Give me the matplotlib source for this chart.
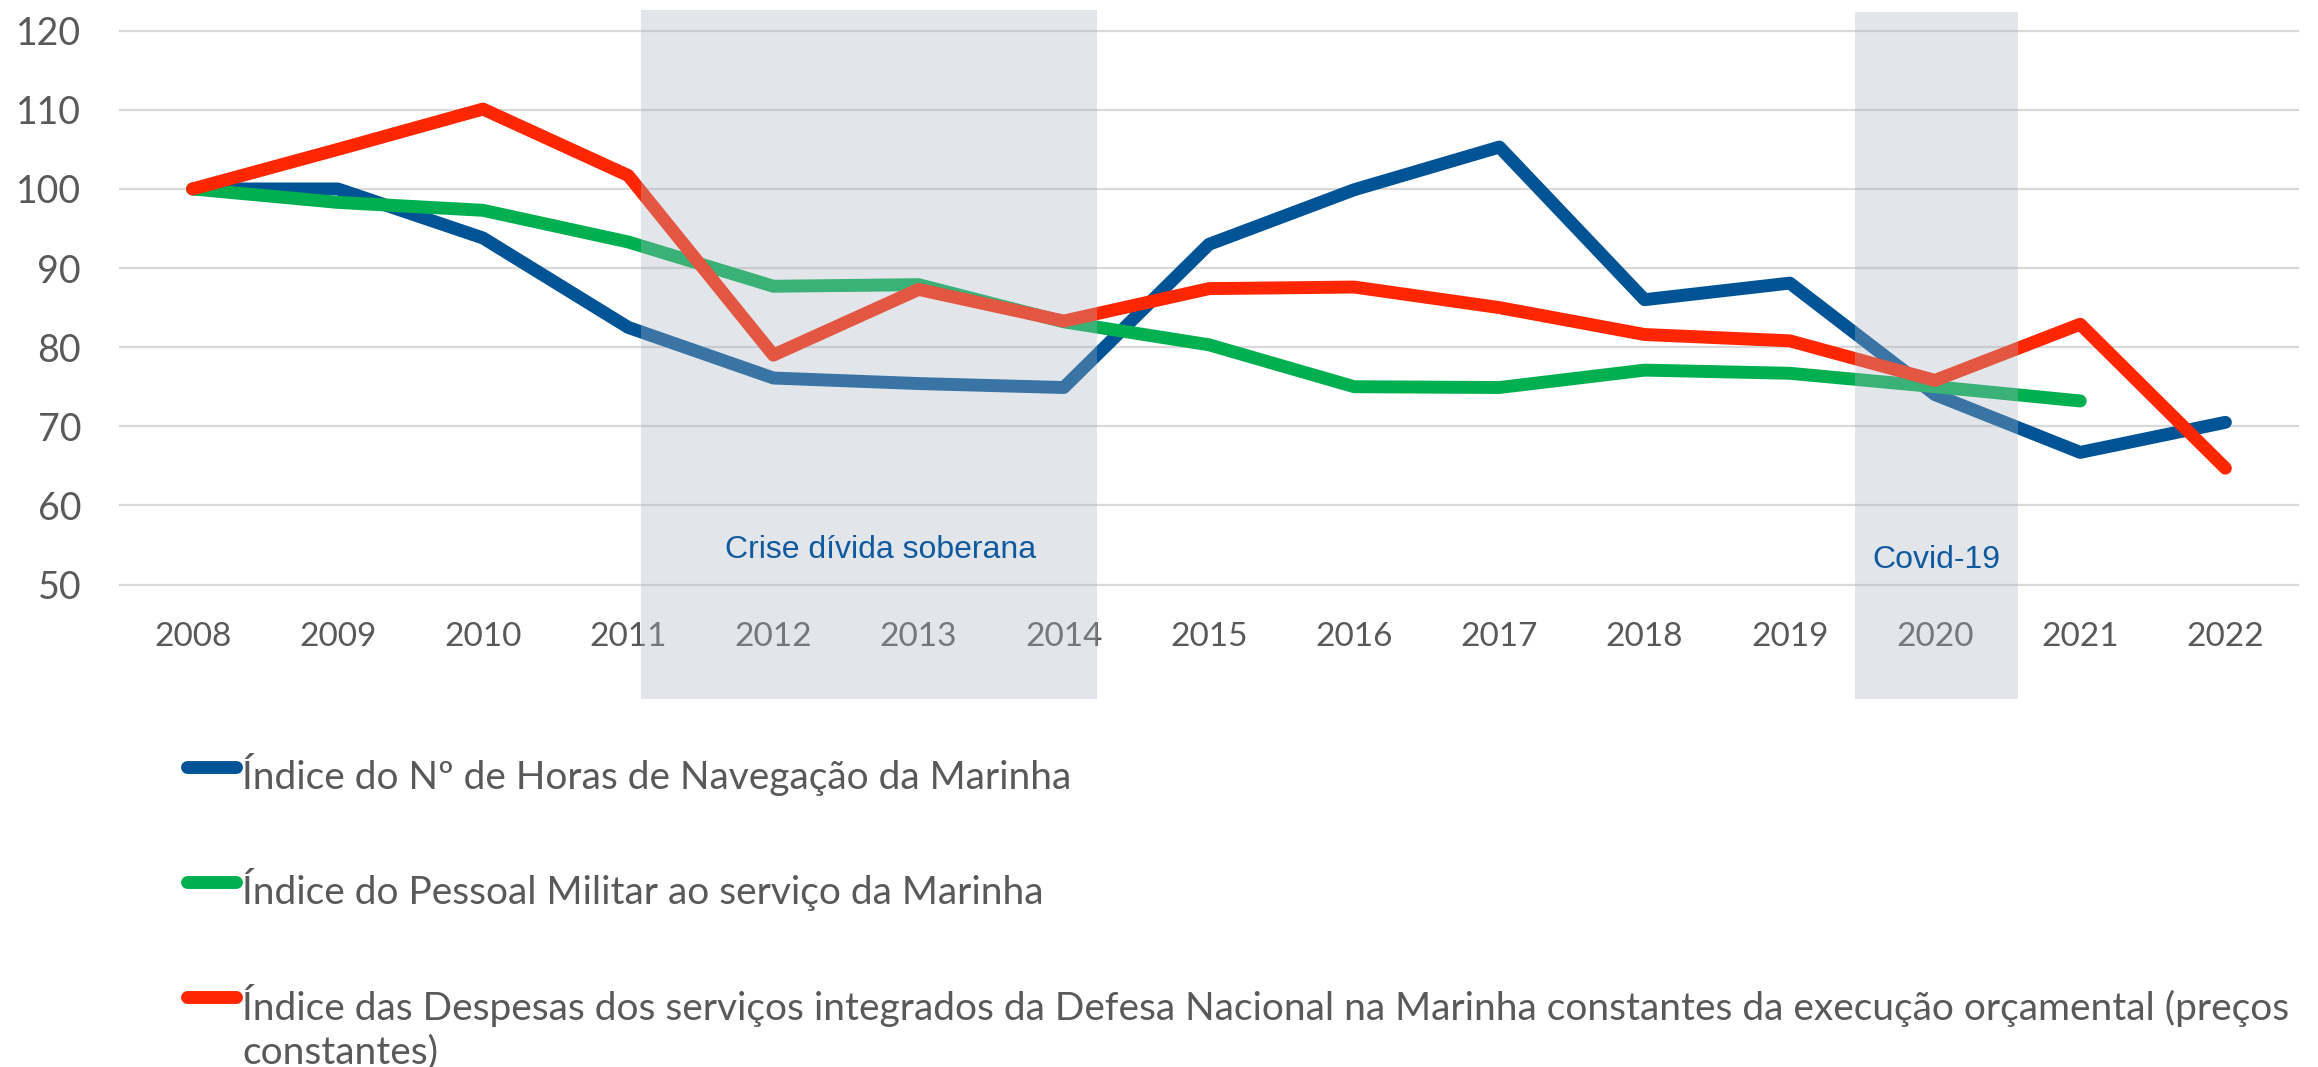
import numpy as np
import matplotlib
matplotlib.use("Agg")
import matplotlib.pyplot as plt
from matplotlib.offsetbox import HPacker

years = list(range(2008, 2023))
horas = [100, 100, 93.8, 82.5, 76.1, 75.4, 74.9, 93.0, 99.9, 105.3, 86.0, 88.1, 74.0, 66.7, 70.5]
pessoal = [100, 98.3, 97.3, 93.3, 87.7, 87.9, 83.2, 80.3, 75.0, 74.9, 77.1, 76.7, 75.0, 73.2, np.nan]
despesas = [100, 105.0, 110.1, 101.7, 79.0, 87.3, 83.3, 87.4, 87.6, 85.0, 81.6, 80.8, 75.8, 82.9, 64.7]

labels = [
    "Índice do Nº de Horas de Navegação da Marinha",
    "Índice do Pessoal Militar ao serviço da Marinha",
    "Índice das Despesas dos serviços integrados da Defesa Nacional na Marinha "
    "constantes da execução orçamental (preços\nconstantes)",
]

periods = [("Crise dívida soberana", 2011.09, 2014.23), ("Covid-19", 2019.45, 2020.57)]

blue = "#005496"
green = "#00B050"
red = "#FF2600"
grey_txt = "#595959"

plt.rcParams["font.family"] = ["Lato", "DejaVu Sans"]

fig = plt.figure(figsize=(23.18, 10.67), dpi=100)
ax = fig.add_axes([0.05177, 0.4522, 0.9396, 0.5190])

lw = 9.3
line_kw = dict(linewidth=lw, solid_capstyle="round", solid_joinstyle="round", zorder=2)
ax.plot(years, horas, color=blue, label=labels[0], **line_kw)
ax.plot(years, pessoal, color=green, label=labels[1], **line_kw)
ax.plot(years, despesas, color=red, label=labels[2], **line_kw)

ax.set_xlim(2007.5, 2022.5)
ax.set_ylim(50, 120)
ax.set_yticks(range(50, 121, 10))
ax.set_xticks(years)
ax.set_xticklabels([str(y) for y in years])
ax.tick_params(axis="x", length=0, pad=27, labelsize=24, labelcolor=grey_txt)
ax.tick_params(axis="y", length=0, pad=28, labelsize=27, labelcolor=grey_txt)
ax.grid(axis="y", color="#D9D9D9", linewidth=1.6)
for s in ax.spines.values():
    s.set_visible(False)
for gl in ax.yaxis.get_gridlines():
    gl.set_clip_on(False)

# shaded periods (drawn on top, semi-transparent)
tops = [1.0374, 1.033]
for (name, x0, x1), top in zip(periods, tops):
    ax.axvspan(x0, x1, ymin=-0.2068, ymax=top, color="#AAB4C3", alpha=0.34,
               lw=0, zorder=3, clip_on=False)
ax.text(2012.74, 53.39, periods[0][0], ha="center",
        va="baseline", fontsize=23, color="#0F5A9E", family="Liberation Sans", zorder=4)
ax.text((periods[1][1] + periods[1][2]) / 2, 52.05, periods[1][0], ha="center",
        va="baseline", fontsize=23, color="#0F5A9E", family="Liberation Sans", zorder=4)

leg = ax.legend(loc="upper left", bbox_to_anchor=(0.0805, 0.2943),
                bbox_transform=fig.transFigure, frameon=False, fontsize=28,
                handlelength=1.28, handletextpad=0.15, labelspacing=1.86,
                borderpad=0, borderaxespad=0, labelcolor=grey_txt)
leg.get_texts()[2].set_linespacing(1.25)
for hp in leg.findobj(HPacker):
    hp.align = "top"

fig.savefig("out.png", dpi=100)
